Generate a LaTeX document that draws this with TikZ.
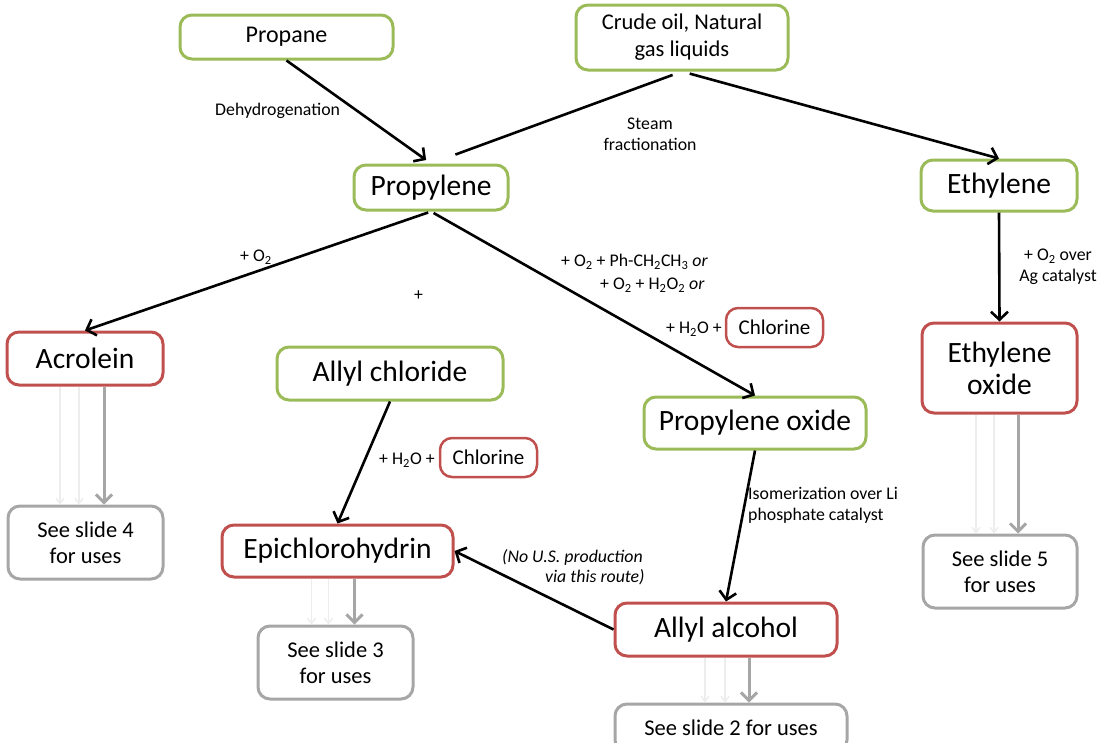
\documentclass[tikz,border=0pt]{standalone}
\usepackage{fontspec}
\setmainfont{Carlito}
\usetikzlibrary{arrows.meta}

\definecolor{boxgreen}{HTML}{9BBB59}
\definecolor{boxred}{HTML}{C0504D}
\definecolor{boxgray}{HTML}{A6A6A6}

\begin{document}
\begin{tikzpicture}[x=1pt, y=-1pt]
    % Box styles
    \tikzstyle{base box}=[rounded corners=12pt, line width=3pt, inner sep=2pt, align=center]
    \tikzstyle{green box}=[base box, draw=boxgreen]
    \tikzstyle{red box}=[base box, draw=boxred]
    \tikzstyle{use box}=[base box, draw=boxgray, font=\fontsize{22.5}{26}\selectfont]
    \tikzstyle{big text}=[font=\fontsize{29.5}{32}\selectfont]
    \tikzstyle{mid text}=[font=\fontsize{24}{27}\selectfont]
    \tikzstyle{small text}=[font=\fontsize{21}{25}\selectfont]
    % Arrow and label styles
    \tikzstyle{flow}=[line width=2.6pt, -{Straight Barb[length=8pt,width=17pt]}]
    \tikzstyle{use arrow}=[line width=3pt, draw=boxgray, -{Straight Barb[length=8pt,width=16pt]}]
    \tikzstyle{faint arrow}=[line width=1.5pt, draw=black!7, -{Straight Barb[length=5pt,width=8pt]}]
    \tikzstyle{note}=[font=\fontsize{17.8}{21}\selectfont, inner sep=0pt]

    \useasboundingbox (0,0) rectangle (1102,742);
    \clip (0,0) rectangle (1102,742);

    % --- Feedstocks ---
    \node[green box, mid text, minimum width=213, minimum height=44] (propane) at (286.5,37) {Propane};
    \node[green box, font=\fontsize{22.5}{27}\selectfont, minimum width=212, minimum height=65] (crude) at (682,37.5) {Crude oil, Natural\\gas liquids};

    % --- Olefins ---
    \node[green box, big text, minimum width=154, minimum height=45] (propylene) at (431,187.5) {Propylene};
    \node[green box, big text, minimum width=156, minimum height=51] (ethylene) at (999,185.5) {Ethylene};

    % --- Intermediates ---
    \node[red box, big text, minimum width=156, minimum height=53] (acrolein) at (85,358.5) {Acrolein};
    \node[green box, big text, minimum width=226, minimum height=53] (allylchl) at (390,373.5) {Allyl chloride};
    \node[green box, big text, minimum width=222, minimum height=52] (propox) at (755,423) {Propylene oxide};
    \node[red box, big text, minimum width=155, minimum height=90] (ethox) at (999.5,368) {Ethylene\\oxide};
    \node[red box, big text, minimum width=231, minimum height=52] (epi) at (337.5,551) {Epichlorohydrin};
    \node[red box, big text, minimum width=222, minimum height=53] (allylalc) at (726,629.5) {Allyl alcohol};

    % Chlorine markers
    \node[red box, small text, line width=2.5pt, minimum width=97, minimum height=39] (chlor1) at (774.5,327.5) {Chlorine};
    \node[red box, small text, line width=2.5pt, minimum width=97, minimum height=39] (chlor2) at (488.5,457.5) {Chlorine};

    % --- Uses ---
    \node[use box, minimum width=155, minimum height=73] (slide4) at (85.5,542.5) {See slide 4\\for uses};
    \node[use box, minimum width=155, minimum height=73] (slide3) at (335.5,662.5) {See slide 3\\for uses};
    \node[use box, minimum width=154, minimum height=73] (slide5) at (1000,571.5) {See slide 5\\for uses};
    \node[use box, minimum width=232, minimum height=48] (slide2) at (731,728) {See slide 2 for uses};

    % --- Reaction arrows ---
    \draw[flow, shorten >=6pt] (propane.south) -- (propylene.north);
    \draw[line width=2.6pt, shorten <=10pt, shorten >=26pt] (crude.south) -- (propylene.north);
    \draw[flow, shorten <=8pt] (crude.south) -- (ethylene.north);
    \draw[flow, shorten <=3pt] (propylene.south) -- (acrolein.north);
    \draw[flow, shorten <=3pt] (propylene.south) -- (propox.north);
    \draw[flow] (ethylene.south) -- (ethox.north);
    \draw[flow] (allylchl.south) -- (epi.north);
    \draw[flow] (propox.south) -- (allylalc.north);
    \draw[flow] (allylalc.west) -- (epi.east);

    % Reaction labels
    \node[note, anchor=west] (dehyd) at (215,111) {Dehydrogenation};
    \node[note, align=center] (steam) at (650,134) {Steam\\fractionation};
    \node[note, anchor=west] (oxy1) at (240,257) {+ O\textsubscript{2}};
    \node[note, anchor=west] (plus) at (414,296) {+};
    \node[note, anchor=west] (po1) at (561,262) {+ O\textsubscript{2} + Ph-CH\textsubscript{2}CH\textsubscript{3} \textit{or}};
    \node[note, anchor=west] (po2) at (600,285) {+ O\textsubscript{2} + H\textsubscript{2}O\textsubscript{2} \textit{or}};
    \node[note, anchor=west] (po3) at (666,329) {+ H\textsubscript{2}O +};
    \node[note, anchor=west] (epi1) at (379,460) {+ H\textsubscript{2}O +};
    \node[note, align=center] (agcat) at (1058,267) {+ O\textsubscript{2} over\\Ag catalyst};
    \node[note, align=left, anchor=west] (isom) at (748,505) {Isomerization over Li\\phosphate catalyst};
    \node[note, align=left, anchor=west, font=\fontsize{17.8}{20}\itshape] (nous) at (502,567) {(No U.S. production\\\hspace{43pt}via this route)};

    % --- Arrows to uses ---
    % Acrolein
    \draw[faint arrow] ([xshift=-25]acrolein.south) -- ([xshift=-25]acrolein.south |- slide4.north);
    \draw[faint arrow] ([xshift=-6]acrolein.south) -- ([xshift=-6]acrolein.south |- slide4.north);
    \draw[use arrow] ([xshift=19]acrolein.south) -- ([xshift=19]acrolein.south |- slide4.north);
    % Epichlorohydrin
    \draw[faint arrow] ([xshift=-26]epi.south) -- ([xshift=-26]epi.south |- slide3.north);
    \draw[faint arrow] ([xshift=-9]epi.south) -- ([xshift=-9]epi.south |- slide3.north);
    \draw[use arrow] ([xshift=17]epi.south) -- ([xshift=17]epi.south |- slide3.north);
    % Ethylene oxide
    \draw[faint arrow] ([xshift=-23.5]ethox.south) -- ([xshift=-23.5]ethox.south |- slide5.north);
    \draw[faint arrow] ([xshift=-5.5]ethox.south) -- ([xshift=-5.5]ethox.south |- slide5.north);
    \draw[use arrow] ([xshift=18.5]ethox.south) -- ([xshift=18.5]ethox.south |- slide5.north);
    % Allyl alcohol
    \draw[faint arrow] ([xshift=-21]allylalc.south) -- ([xshift=-21]allylalc.south |- slide2.north);
    \draw[faint arrow] ([xshift=-1]allylalc.south) -- ([xshift=-1]allylalc.south |- slide2.north);
    \draw[use arrow] ([xshift=23]allylalc.south) -- ([xshift=23]allylalc.south |- slide2.north);

\end{tikzpicture}
\end{document}
